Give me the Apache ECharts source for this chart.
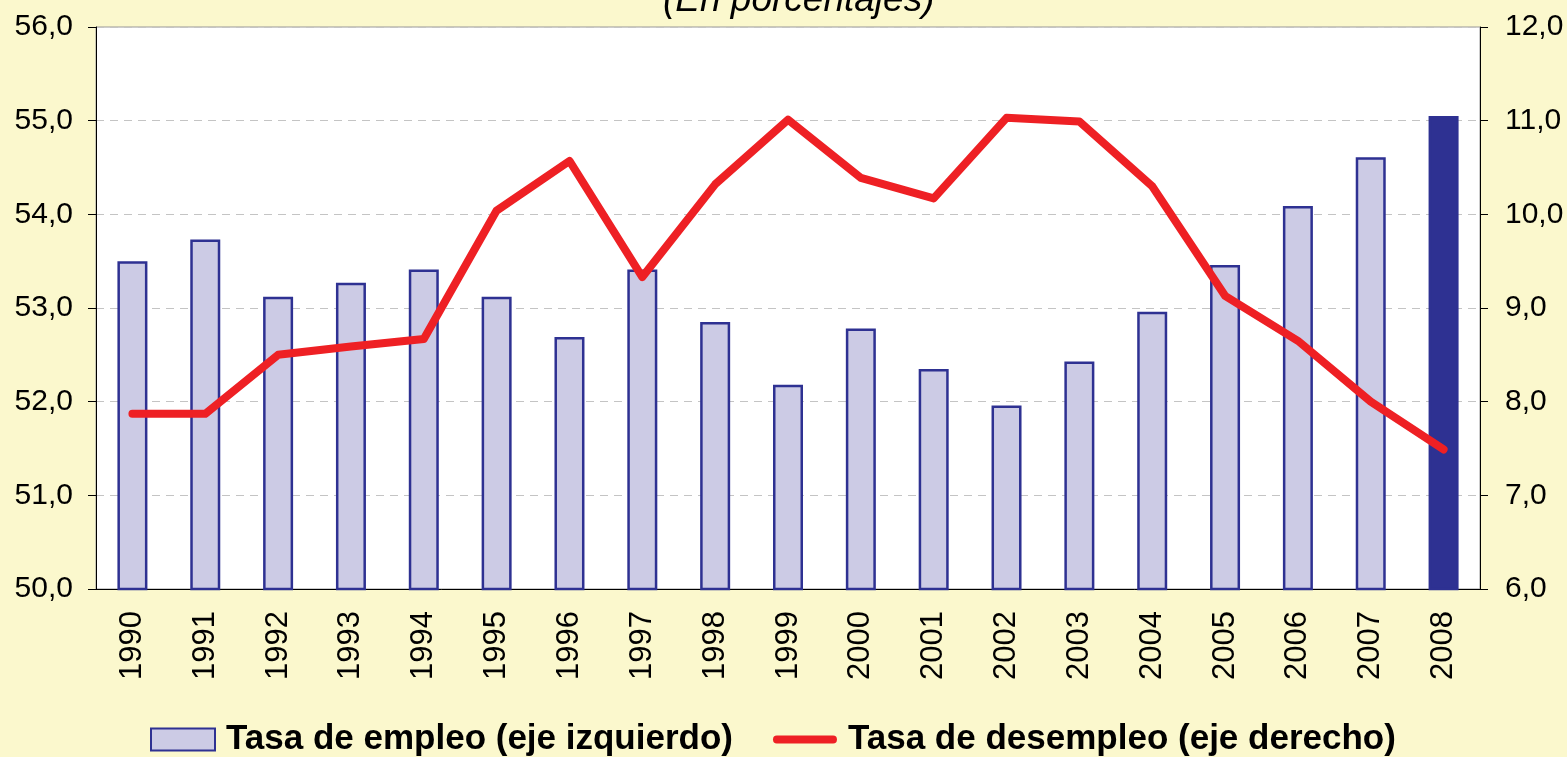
<!DOCTYPE html>
<html>
<head>
<meta charset="utf-8">
<style>
  html, body { margin: 0; padding: 0; background: #FBF8CD; }
  #chart { width: 1567px; height: 757px; }
</style>
<script src="https://cdn.jsdelivr.net/npm/echarts@6/dist/echarts.min.js"></script>
</head>
<body>
<div id="chart"></div>
<script>
// años
const years = ['1990', '1991', '1992', '1993', '1994', '1995', '1996', '1997', '1998', '1999',
  '2000', '2001', '2002', '2003', '2004', '2005', '2006', '2007', '2008'];
// tasa de empleo (eje izquierdo)
const empleo = [53.50, 53.73, 53.12, 53.27, 53.41, 53.12, 52.69, 53.41, 52.85, 52.18,
  52.78, 52.35, 51.96, 52.43, 52.96, 53.46, 54.09, 54.61, 55.05];
// tasa de desempleo (eje derecho)
const desempleo = [7.87, 7.87, 8.50, 8.59, 8.67, 10.04, 10.57, 9.33, 10.32, 11.01,
  10.39, 10.17, 11.03, 10.99, 10.30, 9.13, 8.65, 8.00, 7.49];

const BAR_FILL = '#CCCBE5';
const BAR_DARK = '#2E3192';
const LINE_RED = '#EE2024';
const FONT = 'Liberation Sans, Arial, sans-serif';

const fmt = v => v.toFixed(1).replace('.', ',');

// icono de línea gruesa con extremos redondeados para la leyenda
const LINE_ICON = 'path://M4,0 L62,0 A4,4 0 0 1 62,8 L4,8 A4,4 0 0 1 4,0 Z';

const chart = echarts.init(document.getElementById('chart'));
chart.setOption({
  backgroundColor: '#FBF8CD',
  animation: false,
  title: {
    text: '(En porcentajes)',
    left: 658,
    top: -23,
    textStyle: { fontFamily: FONT, fontSize: 37, fontStyle: 'italic', fontWeight: 'normal', color: '#000' }
  },
  grid: {
    left: 96, right: 87, top: 27, bottom: 168,
    show: true, backgroundColor: '#fff', borderColor: '#999', borderWidth: 1
  },
  legend: {
    top: 717,
    left: 145,
    itemWidth: 64,
    itemHeight: 22,
    itemGap: 40,
    textStyle: { fontFamily: FONT, fontSize: 35, fontWeight: 'bold', color: '#000', padding: [0, 0, 0, 6] },
    data: [
      { name: 'Tasa de empleo (eje izquierdo)', icon: 'rect' },
      { name: 'Tasa de desempleo (eje derecho)', icon: LINE_ICON }
    ]
  },
  xAxis: {
    type: 'category',
    data: years,
    axisLine: { lineStyle: { color: '#000', width: 1 } },
    axisTick: { length: 8, lineStyle: { color: '#000' } },
    axisLabel: { rotate: 90, margin: 22, fontFamily: FONT, fontSize: 31, color: '#000' }
  },
  yAxis: [{
    type: 'value', min: 50, max: 56, interval: 1, position: 'left',
    axisLine: { show: true, lineStyle: { color: '#000' } },
    axisTick: { show: true, length: 8, lineStyle: { color: '#000' } },
    axisLabel: { formatter: fmt, margin: 23, fontFamily: FONT, fontSize: 30, color: '#000' },
    splitLine: { lineStyle: { color: '#C4C4C4', type: [8, 6] } }
  }, {
    type: 'value', min: 6, max: 12, interval: 1, position: 'right',
    axisLine: { show: true, lineStyle: { color: '#000' } },
    axisTick: { show: true, length: 8, lineStyle: { color: '#000' } },
    axisLabel: { formatter: fmt, margin: 25, fontFamily: FONT, fontSize: 30, color: '#000' },
    splitLine: { show: false }
  }],
  series: [{
    name: 'Tasa de empleo (eje izquierdo)',
    type: 'bar',
    yAxisIndex: 0,
    barWidth: 30,
    itemStyle: { color: BAR_FILL, borderColor: BAR_DARK, borderWidth: 2.5 },
    data: empleo.map((v, i) => i === empleo.length - 1
      ? { value: v, itemStyle: { color: BAR_DARK } }
      : v)
  }, {
    name: 'Tasa de desempleo (eje derecho)',
    type: 'line',
    yAxisIndex: 1,
    symbol: 'none',
    lineStyle: { color: LINE_RED, width: 8, join: 'round', cap: 'round' },
    itemStyle: { color: LINE_RED },
    data: desempleo
  }]
});
window.addEventListener('resize', () => chart.resize());
</script>
</body>
</html>
